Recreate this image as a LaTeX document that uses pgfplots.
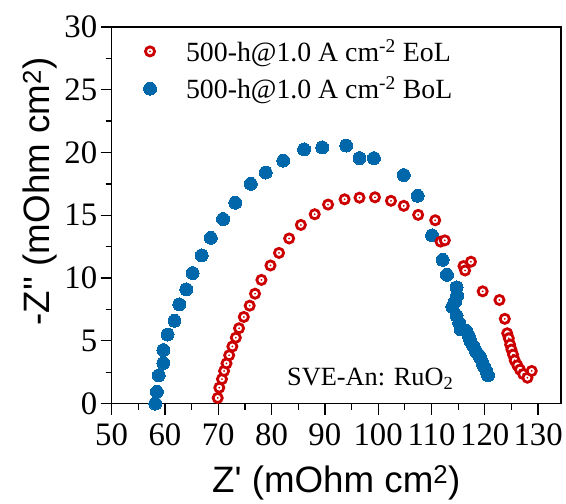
\documentclass[border=0pt]{standalone}
\usepackage{fontspec}
\setmainfont{Liberation Serif}
\newfontfamily\arial{Liberation Sans}
\usepackage{pgfplots}
\pgfplotsset{compat=1.18}

\definecolor{bolblue}{RGB}{0,104,170}
\definecolor{eolred}{RGB}{204,0,0}

% red ring with a small dot in the middle
\pgfdeclareplotmark{ringdot}{%
  \pgfsetlinewidth{2.8bp}%
  \pgfpathcircle{\pgfpointorigin}{\pgfplotmarksize}%
  \pgfsetfillcolor{white}%
  \pgfusepath{fill,stroke}%
  \pgfpathcircle{\pgfpointorigin}{1bp}%
  \pgfsetfillcolor{eolred}%
  \pgfusepath{fill}%
}

\begin{document}
\begin{tikzpicture}
  \begin{axis}[
    scale only axis,
    width=451bp, height=378bp,
    xmin=50, xmax=134.3,
    ymin=0, ymax=30,
    xtick={50,60,...,130},
    ytick={0,5,...,30},
    minor x tick num=1,
    minor y tick num=1,
    tick pos=left,
    tick align=outside,
    major tick length=11bp,
    minor tick length=6bp,
    every tick/.style={black, line width=1.3bp},
    axis line style={line width=1.5bp},
    ticklabel style={font=\fontsize{33}{38}\selectfont},
    xticklabel style={yshift=-6bp},
    /pgf/number format/assume math mode=true,
    xlabel={\arial Z' (mOhm cm\textsuperscript{2})},
    ylabel={\arial -Z'' (mOhm cm\textsuperscript{2})},
    label style={font=\fontsize{37}{42}\selectfont},
    xlabel style={yshift=-13bp},
    ylabel style={at={(ticklabel cs:0.563)}},
    legend style={draw=none, fill=none, at={(0.064,0.977)}, anchor=north west,
      font=\fontsize{28}{33}\selectfont, row sep=10bp},
    legend cell align=left,
    reverse legend,
    legend image code/.code={%
      \path (-6bp,0bp) (34bp,0bp);
      \draw[#1] plot coordinates {(0bp,0bp)};},
  ]
    % BoL
    \addplot+[only marks, mark=*, mark size=6.5bp,
      mark options={draw=bolblue, fill=bolblue, line width=0pt}] coordinates {
      (58.2,0.0) (58.5,0.93) (58.85,2.25) (59.7,3.23) (59.7,4.26)
      (60.5,5.5) (61.8,6.6) (62.7,7.9) (64.0,9.1) (65.2,10.4)
      (66.9,11.8) (68.6,13.2) (70.9,14.7) (73.2,16.0) (76.1,17.5)
      (78.9,18.4) (82.2,19.35) (86.1,20.25) (89.5,20.4) (94.0,20.55)
      (96.5,19.55) (99.2,19.55) (104.8,18.2) (107.4,16.55) (110.1,13.4)
      (112.1,11.45) (112.9,10.25) (114.7,9.25) (114.8,8.6) (114.4,8.1)
      (113.9,7.7) (114.7,7.0) (115.2,6.4) (115.5,5.9) (116.5,5.8)
      (117.0,5.4) (117.3,5.0) (117.8,4.6) (118.3,4.2) (118.8,3.9)
      (119.2,3.6) (119.6,3.2) (119.9,2.9) (120.3,2.6) (120.6,2.25)
    };
    \addlegendentry{500-h@1.0 A cm\textsuperscript{-2} BoL}
    % EoL
    \addplot+[only marks, mark=ringdot, mark size=4.6bp,
      mark options={draw=eolred}] coordinates {
      (69.9,0.45) (70.2,1.27) (70.7,1.95) (71.1,2.6) (71.55,3.2)
      (72.05,3.85) (72.65,4.55) (73.3,5.25) (73.9,6.0) (74.8,6.9)
      (75.9,7.8) (76.9,8.75) (78.1,9.85) (79.8,11.0) (81.4,12.0)
      (83.3,13.15) (85.5,14.23) (88.1,15.08) (90.6,15.85) (93.7,16.27)
      (96.5,16.4) (99.4,16.43) (102.4,16.15) (104.8,15.75) (107.5,15.03)
      (110.7,14.6) (111.7,12.9) (112.5,13.0) (116.0,10.95) (116.3,10.6)
      (117.4,11.3) (119.6,8.94) (122.75,8.25) (123.75,6.75) (124.2,5.6)
      (124.5,5.2) (124.75,4.7) (125.0,4.3) (125.3,3.9) (125.6,3.45)
      (126.1,3.05) (126.6,2.7) (127.2,2.35) (128.0,2.06) (128.8,2.6)
    };
    \addlegendentry{500-h@1.0 A cm\textsuperscript{-2} EoL}
    \node[anchor=base west, inner sep=0pt, font=\fontsize{26.5}{32}\selectfont]
      at (axis cs:82.9,1.43) {SVE-An: RuO\textsubscript{2}};
  \end{axis}
  \path ([xshift=-112bp,yshift=-93bp]current axis.south west)
    rectangle ([xshift=3bp,yshift=27bp]current axis.north east);
\end{tikzpicture}
\end{document}
